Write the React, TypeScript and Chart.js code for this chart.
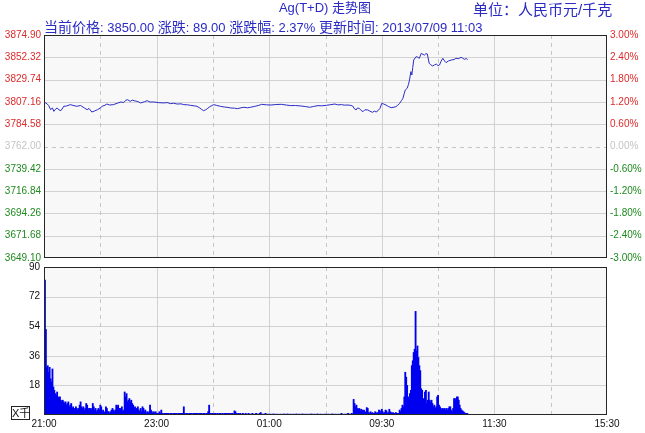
import React, { useEffect, useRef } from "react";
import { Chart, registerables } from "chart.js";

Chart.register(...registerables);

// ---------- data ----------
const prevClose = 3762.0;
const priceTicks = [3649.1, 3671.68, 3694.26, 3716.84, 3739.42, 3762.0, 3784.58, 3807.16, 3829.74, 3852.32, 3874.9];
const percentTicks = [-3, -2.4, -1.8, -1.2, -0.6, 0, 0.6, 1.2, 1.8, 2.4, 3];
const volumeTicks = [0, 18, 36, 54, 72, 90];
const timeTickMinutes = [0, 60, 120, 180, 240, 300, 360, 420, 480, 540, 600];
const timeTickLabels = ["21:00", "", "23:00", "", "01:00", "", "09:30", "", "11:30", "", "15:30"];

// minutes elapsed in the trading day since 21:00
const priceMinutes = [
  0, 2, 3.5, 5, 7, 9, 10.5, 12, 14, 16, 18, 20, 21, 24, 28, 31, 35, 39, 43, 46, 48, 51, 54, 57, 60, 62, 65, 67, 70, 74,
  78, 82, 85, 87, 89, 92, 94, 96, 100, 103, 107, 110, 113, 117, 122, 128, 131, 135, 138, 142, 146, 149, 153, 156, 160,
  163, 166, 168, 170, 172, 174, 177, 181, 184, 188, 192, 196, 199, 203, 206, 210, 213, 217, 220, 224, 229, 232, 237, 242,
  247, 253, 258, 263, 268, 274, 279, 283, 287, 292, 296, 301, 305, 310, 313, 317, 320, 324, 327, 329, 331, 332.6, 334,
  336, 338, 340, 342, 345, 347, 350, 352, 354, 356, 358, 360, 362, 364.5, 367, 370, 373, 375, 377, 379, 381, 382.5, 384,
  385, 387, 388.5, 389.5, 391, 392, 393, 394, 396.5, 398, 400, 402, 404, 405.5, 407, 408.5, 410.5, 412, 414, 416, 418,
  420, 421.5, 423, 425, 427, 428.5, 431, 434, 437, 439, 442, 444.5, 446, 448, 450, 451.5,
];
const priceValues = [
  3807.1, 3806.0, 3805.0, 3803.5, 3799.3, 3801.0, 3797.6, 3799.5, 3801.0, 3799.0, 3798.3, 3801.0, 3802.7, 3803.0, 3804.4,
  3803.6, 3802.7, 3803.5, 3801.0, 3799.3, 3800.5, 3796.9, 3798.0, 3799.3, 3801.0, 3802.7, 3803.8, 3805.0, 3804.0, 3804.4,
  3805.8, 3807.1, 3806.5, 3808.7, 3809.4, 3807.7, 3809.0, 3808.4, 3807.5, 3806.1, 3807.3, 3808.4, 3807.0, 3807.1, 3806.4,
  3806.1, 3806.5, 3805.4, 3805.8, 3805.0, 3805.2, 3804.4, 3804.2, 3803.7, 3803.2, 3802.7, 3801.0, 3799.5, 3798.3, 3799.0,
  3800.3, 3802.5, 3804.4, 3803.6, 3802.7, 3802.0, 3801.6, 3801.0, 3800.8, 3800.3, 3801.2, 3801.7, 3801.2, 3801.7, 3802.5,
  3803.7, 3804.7, 3804.2, 3804.0, 3804.5, 3804.7, 3804.0, 3803.4, 3803.5, 3803.0, 3802.4, 3801.7, 3802.5, 3803.4, 3803.2,
  3803.7, 3804.3, 3805.0, 3804.2, 3804.4, 3803.9, 3804.0, 3803.6, 3803.0, 3800.0, 3799.0, 3801.0, 3800.6, 3798.5, 3797.3,
  3799.2, 3799.0, 3797.9, 3796.6, 3797.8, 3797.0, 3798.3, 3800.6, 3805.7, 3805.0, 3804.0, 3802.5, 3801.3, 3801.8, 3802.3,
  3803.8, 3805.7, 3808.5, 3810.8, 3816.0, 3819.2, 3820.9, 3825.0, 3829.3, 3837.8, 3834.4, 3842.0, 3849.6, 3853.0, 3852.5,
  3851.3, 3856.3, 3855.2, 3854.6, 3856.0, 3855.7, 3846.2, 3845.0, 3843.5, 3844.5, 3845.5, 3843.8, 3844.5, 3848.0, 3851.3,
  3848.5, 3846.9, 3848.6, 3849.6, 3850.0, 3851.3, 3851.0, 3852.3, 3851.5, 3850.3, 3851.0, 3850.0,
];

// volume per minute (thousands) from 21:00
const volumeValues = [
  82, 52, 29, 30, 26, 29, 22, 20, 28, 17, 15, 13, 12, 14, 11, 10, 11, 9, 8, 9,
  8, 7, 8, 6, 7, 8, 5, 6, 7, 4, 5, 4, 3, 5, 4, 3, 4, 6, 8, 5,
  4, 5, 3, 4, 7, 6, 3, 4, 2, 4, 3, 7, 5, 3, 4, 2, 3, 4, 3, 6,
  5, 2, 3, 2, 1, 5, 4, 2, 2, 1, 2, 3, 4, 3, 2, 3, 6, 5, 6, 4,
  4, 3, 5, 2, 3, 14, 11, 13, 8, 9, 10, 8, 9, 7, 6, 4, 5, 3, 4, 5,
  3, 2, 4, 2, 5, 4, 2, 3, 1, 2, 1, 2, 6, 3, 2, 1, 2, 1, 2, 1,
  1, 1, 2, 1, 3, 1, 0.5, 1, 1, 0.5, 1, 1, 1, 0.5, 1, 1, 0.5, 1, 1, 1,
  1, 0.5, 1, 1, 1, 0.5, 1, 1, 5, 1, 0.5, 1, 1, 0.5, 1, 1, 1, 0.5, 1, 1,
  1, 0.5, 1, 1, 0.5, 1, 1, 1, 0.5, 1, 1, 0.5, 1, 1, 2, 6, 1, 0.5, 1, 1,
  0.5, 1, 1, 0.5, 1, 0.5, 1, 1, 0.5, 1, 0.5, 1, 1, 0.5, 1, 0.5, 1, 1, 0.5, 1,
  1, 0.5, 2.5, 2, 1, 0.5, 1, 0.5, 1, 0.5, 0.5, 1, 0.5, 0.5, 1, 0.5, 0.5, 1, 0.5, 0.5,
  0.5, 1, 0.5, 0.5, 0.5, 1, 0.5, 0.5, 0.5, 1, 1.5, 0.5, 0.5, 0.5, 0.5, 1, 0.5, 0.5, 0.5, 0.5,
  0.5, 0.5, 0.3, 0.5, 0.6, 0.4, 0.5, 0.5, 0.3, 0.5, 0.4, 0.5, 0.5, 0.3, 0.5, 0.6, 0.5, 0.4, 0.5, 0.5,
  0.4, 0.5, 0.5, 0.3, 0.5, 0.5, 0.4, 0.5, 0.6, 0.5, 0.3, 0.5, 0.5, 0.4, 0.5, 0.5, 0.3, 0.5, 0.5, 0.4,
  0.5, 0.5, 0.3, 0.5, 0.6, 0.5, 0.4, 0.5, 0.5, 0.3, 0.5, 0.5, 0.4, 0.5, 0.5, 0.3, 0.5, 0.4, 0.5, 0.5,
  0.5, 0.3, 0.5, 0.5, 0.4, 0.5, 0.6, 0.5, 0.3, 0.5, 0.5, 0.4, 0.5, 0.5, 0.3, 0.5, 1, 0.5, 0.4, 0.5,
  0.5, 0.5, 0.5, 1, 0.5, 0.5, 0.5, 1, 0.5, 9.5, 7, 5, 6, 4, 3.5, 4, 2.5, 3.5, 3, 2,
  3, 2, 1.5, 4.5, 4, 1.5, 1, 2, 1, 1.5, 1, 1, 2, 1, 1.5, 1, 3, 2.5, 1, 3.5,
  2, 1, 1.5, 3, 2.5, 1, 1.5, 3.5, 2, 1.5, 1, 1.5, 1, 1, 1.5, 1, 1, 1, 3, 2,
  4, 6, 5, 11, 26, 23, 18, 11, 9, 13, 15, 30, 33, 38, 40, 63, 39, 42, 35, 30,
  27, 16, 15, 10, 9, 14, 15, 7, 9, 14, 9, 8, 9, 7, 5, 6, 4, 5, 11, 12,
  6, 5, 4, 3, 4, 3.5, 4, 3, 4, 3, 4, 5, 5, 3, 2, 4, 10, 10, 9, 11,
  11, 9, 6, 4, 3, 2.5, 2, 1.5, 1, 1, 1, 0.5,
];

// ---------- styles ----------
const FONT = '"Liberation Sans", Arial, "Noto Sans CJK SC", sans-serif';
const PLOT_BG = "#f8f8f8";
const GRID = "#d2d2d2";
const GRID_DASH = "#c6c6c6";
const FRAME = "#262626";
const RED = "#dc2a2a";
const GREEN = "#1e8a1e";
const GRAY = "#c4c4c4";
const LINE_BLUE = "#2c2cc8";
const BAR_BLUE = "#0000f0";
const HEAD_BLUE = "#2a2ac4";

function makeFramePlugin(hLines: number[], dashedH: number | null) {
  return {
    id: "frameGrid",
    beforeDatasetsDraw(chart: any) {
      const { ctx, chartArea: a, scales } = chart;
      ctx.save();
      ctx.fillStyle = PLOT_BG;
      ctx.fillRect(a.left, a.top, a.right - a.left, a.bottom - a.top);
      ctx.lineWidth = 1;
      for (const v of hLines) {
        const y = Math.round(scales.y.getPixelForValue(v)) + 0.5;
        if (y <= a.top + 1 || y >= a.bottom - 1) continue;
        ctx.beginPath();
        if (dashedH !== null && Math.abs(v - dashedH) < 1e-6) {
          ctx.strokeStyle = GRID_DASH;
          ctx.setLineDash([4, 4]);
        } else {
          ctx.strokeStyle = GRID;
          ctx.setLineDash([]);
        }
        ctx.moveTo(a.left, y);
        ctx.lineTo(a.right, y);
        ctx.stroke();
      }
      timeTickMinutes.forEach((m, i) => {
        const x = Math.round(scales.x.getPixelForValue(m)) + 0.5;
        if (x <= a.left + 1 || x >= a.right - 1) return;
        ctx.beginPath();
        if (timeTickLabels[i] === "") {
          ctx.strokeStyle = GRID_DASH;
          ctx.setLineDash([4, 4]);
        } else {
          ctx.strokeStyle = GRID;
          ctx.setLineDash([]);
        }
        ctx.moveTo(x, a.top);
        ctx.lineTo(x, a.bottom);
        ctx.stroke();
      });
      ctx.restore();
    },
    afterDatasetsDraw(chart: any) {
      const { ctx, chartArea: a } = chart;
      ctx.save();
      ctx.strokeStyle = FRAME;
      ctx.lineWidth = 1;
      ctx.setLineDash([]);
      ctx.strokeRect(a.left + 0.5, a.top + 0.5, a.right - a.left - 1, a.bottom - a.top - 1);
      ctx.restore();
    },
  };
}

const priceColor = (v: number) => (v > prevClose + 0.001 ? RED : v < prevClose - 0.001 ? GREEN : GRAY);
const pctColor = (v: number) => (v > 0.0001 ? RED : v < -0.0001 ? GREEN : GRAY);

export default function App() {
  const priceRef = useRef<HTMLCanvasElement>(null);
  const volRef = useRef<HTMLCanvasElement>(null);

  useEffect(() => {
    const priceChart = new Chart(priceRef.current as HTMLCanvasElement, {
      type: "line",
      data: {
        datasets: [
          {
            data: priceMinutes.map((m, i) => ({ x: m, y: priceValues[i] })),
            borderColor: LINE_BLUE,
            borderWidth: 1,
            pointRadius: 0,
            tension: 0,
            yAxisID: "y",
          },
        ],
      },
      options: {
        animation: false,
        responsive: false,
        devicePixelRatio: 1,
        layout: { padding: { top: 35, bottom: 10, left: 0, right: 0 } },
        plugins: { legend: { display: false }, tooltip: { enabled: false } },
        scales: {
          x: { type: "linear", min: 0, max: 600, offset: false, display: false },
          y: {
            type: "linear",
            position: "left",
            min: priceTicks[0],
            max: priceTicks[priceTicks.length - 1],
            afterBuildTicks: (s: any) => {
              s.ticks = priceTicks.map((v) => ({ value: v }));
            },
            afterFit: (s: any) => {
              s.width = 44;
            },
            grid: { display: false, drawTicks: false },
            border: { display: false },
            ticks: {
              padding: 3,
              font: { family: FONT, size: 10 },
              color: (c: any) => priceColor(c.tick.value),
              callback: (v: any) => Number(v).toFixed(2),
            },
          },
          y2: {
            type: "linear",
            position: "right",
            min: -3,
            max: 3,
            afterBuildTicks: (s: any) => {
              s.ticks = percentTicks.map((v) => ({ value: v }));
            },
            afterFit: (s: any) => {
              s.width = 38;
            },
            grid: { display: false, drawTicks: false },
            border: { display: false },
            ticks: {
              padding: 3,
              font: { family: FONT, size: 10 },
              color: (c: any) => pctColor(c.tick.value),
              callback: (v: any) => Number(v).toFixed(2) + "%",
            },
          },
        },
      } as any,
      plugins: [makeFramePlugin(priceTicks, prevClose)],
    });

    const volChart = new Chart(volRef.current as HTMLCanvasElement, {
      type: "bar",
      data: {
        datasets: [
          {
            data: volumeValues.map((v, i) => ({ x: i + 1, y: v })),
            backgroundColor: BAR_BLUE,
            borderWidth: 0,
            barThickness: 1.2,
          },
        ],
      },
      options: {
        animation: false,
        responsive: false,
        devicePixelRatio: 1,
        layout: { padding: { top: 12, bottom: 0, left: 0, right: 38 } },
        plugins: { legend: { display: false }, tooltip: { enabled: false } },
        scales: {
          x: {
            type: "linear",
            min: 0,
            max: 600,
            offset: false,
            afterBuildTicks: (s: any) => {
              s.ticks = timeTickMinutes.map((v) => ({ value: v }));
            },
            afterFit: (s: any) => {
              s.height = 18;
            },
            grid: { display: false, drawTicks: false, offset: false },
            border: { display: false },
            ticks: {
              autoSkip: false,
              maxRotation: 0,
              padding: 3,
              color: "#111",
              font: { family: FONT, size: 10 },
              callback: (v: any) => {
                const i = timeTickMinutes.indexOf(Number(v));
                return i >= 0 ? timeTickLabels[i] : "";
              },
            },
          },
          y: {
            type: "linear",
            min: 0,
            max: 90,
            afterBuildTicks: (s: any) => {
              s.ticks = volumeTicks.map((v) => ({ value: v }));
            },
            afterFit: (s: any) => {
              s.width = 44;
            },
            grid: { display: false, drawTicks: false },
            border: { display: false },
            ticks: {
              padding: 4,
              color: "#111",
              font: { family: FONT, size: 10 },
              callback: (v: any) => (Number(v) === 0 ? "" : String(v)),
            },
          },
        },
      } as any,
      plugins: [makeFramePlugin(volumeTicks, null)],
    });

    return () => {
      priceChart.destroy();
      volChart.destroy();
    };
  }, []);

  const cjk = { fontSize: 14 };

  return (
    <div
      style={{
        position: "fixed",
        left: 0,
        top: 0,
        width: 645,
        height: 433,
        background: "#ffffff",
        overflow: "hidden",
        fontFamily: FONT,
      }}
    >
      <canvas ref={priceRef} width={645} height={268} style={{ position: "absolute", left: 0, top: 0 }} />
      <canvas ref={volRef} width={645} height={178} style={{ position: "absolute", left: 0, top: 255 }} />
      <div
        style={{
          position: "absolute",
          left: 200,
          width: 250,
          top: 0,
          textAlign: "center",
          fontSize: 13,
          lineHeight: "16px",
          color: HEAD_BLUE,
          whiteSpace: "nowrap",
        }}
      >
        Ag(T+D) 走势图
      </div>
      <div
        style={{
          position: "absolute",
          left: 473,
          top: 1,
          fontSize: 15,
          lineHeight: "17px",
          color: HEAD_BLUE,
          whiteSpace: "nowrap",
        }}
      >
        单位：人民币元/千克
      </div>
      <div
        style={{
          position: "absolute",
          left: 44,
          top: 19,
          fontSize: 13,
          lineHeight: "16px",
          color: HEAD_BLUE,
          whiteSpace: "nowrap",
        }}
      >
        <span style={cjk}>当前价格</span>: 3850.00 <span style={cjk}>涨跌</span>: 89.00{" "}
        <span style={cjk}>涨跌幅</span>: 2.37% <span style={cjk}>更新时间</span>: 2013/07/09 11:03
      </div>
      <div
        style={{
          position: "absolute",
          left: 11,
          top: 406,
          width: 17,
          height: 12,
          border: "1px solid #222",
          fontSize: 11,
          lineHeight: "12px",
          color: "#111",
          textAlign: "center",
          background: "#fff",
          whiteSpace: "nowrap",
        }}
      >
        X千
      </div>
    </div>
  );
}
